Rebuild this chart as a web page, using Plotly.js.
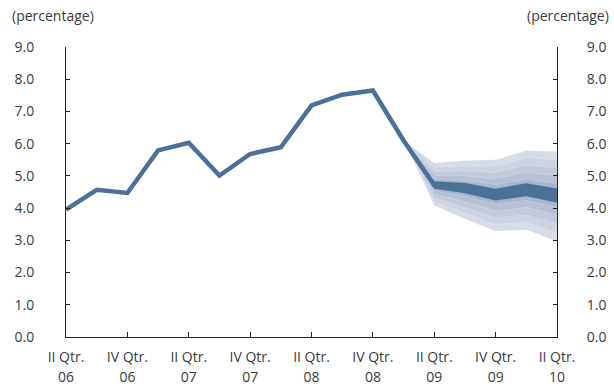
<!DOCTYPE html>
<html>
<head>
<meta charset="utf-8">
<script src="https://cdn.plot.ly/plotly-3.0.1.min.js"></script>
<style>html,body{margin:0;padding:0;background:#fff;}#chart{width:614px;height:388px;}</style>
</head>
<body>
<div id="chart"></div>
<script>
// Quarters II Qtr. 06 .. II Qtr. 10
const quarters = ["II 06","III 06","IV 06","I 07","II 07","III 07","IV 07","I 08","II 08","III 08","IV 08","I 09","II 09","III 09","IV 09","I 10","II 10"];
const rate = [3.95, 4.57, 4.47, 5.79, 6.03, 5.01, 5.68, 5.89, 7.19, 7.52, 7.65, 6.10, 4.71, 4.62, 4.42, 4.57, 4.39];
const tickQuarters = ["II 06","IV 06","II 07","IV 07","II 08","IV 08","II 09","IV 09","II 10"];
const tickQtrLabels = ["II Qtr.","IV Qtr.","II Qtr.","IV Qtr.","II Qtr.","IV Qtr.","II Qtr.","IV Qtr.","II Qtr."];
const tickYearLabels = ["06","06","07","07","08","08","09","09","10"];
// Fan chart (projection) quarters I 09 .. II 10; band edges, outermost first, innermost = central band
const fanQuarters = ["I 09","II 09","III 09","IV 09","I 10","II 10"];
const fanUpper = [
  [6.10, 5.40, 5.48, 5.50, 5.79, 5.76],
  [6.10, 5.27, 5.31, 5.30, 5.56, 5.50],
  [6.10, 5.14, 5.15, 5.11, 5.33, 5.25],
  [6.10, 5.02, 5.00, 4.92, 5.11, 5.00],
  [6.10, 4.90, 4.86, 4.73, 4.90, 4.76],
  [6.10, 4.83, 4.78, 4.60, 4.77, 4.61]
];
const fanLower = [
  [6.10, 4.08, 3.66, 3.28, 3.33, 2.97],
  [6.10, 4.20, 3.84, 3.49, 3.56, 3.24],
  [6.10, 4.32, 4.02, 3.70, 3.79, 3.51],
  [6.10, 4.44, 4.20, 3.91, 4.02, 3.78],
  [6.10, 4.54, 4.36, 4.12, 4.24, 4.03],
  [6.10, 4.60, 4.46, 4.24, 4.37, 4.17]
];
const fanColors = ["#d6dbe7","#ccd3e1","#c2cadb","#b6c0d4","#a9b5cc","#4a7299"];

const xi = q => quarters.indexOf(q);
const traces = [];
fanUpper.forEach((up, k) => {
  const lo = fanLower[k];
  const xs = fanQuarters.map(xi).concat(fanQuarters.map(xi).reverse());
  const ys = up.concat(lo.slice().reverse());
  const last = k === fanUpper.length - 1;
  traces.push({x: xs, y: ys, type: "scatter", mode: "lines", fill: "toself",
    fillcolor: fanColors[k], line: {width: last ? 0 : 0.6, color: "rgba(255,255,255,0.35)"}, hoverinfo: "skip", showlegend: false});
});
traces.push({x: quarters.map(xi), y: rate, type: "scatter", mode: "lines",
  line: {color: "#4a7299", width: 4.5, shape: "linear"}, showlegend: false});
// invisible copy so the secondary (right / year-label) axes are drawn
traces.push({x: quarters.map(xi), y: rate, type: "scatter", mode: "lines", xaxis: "x2", yaxis: "y2",
  line: {width: 0}, opacity: 0, hoverinfo: "skip", showlegend: false});

const font = {family: "Open Sans, sans-serif", size: 14, color: "#3a3a3a"};
const yCommon = {range: [0, 9], dtick: 1, tickformat: ".1f", showgrid: false, zeroline: false,
  showline: true, linecolor: "#222", linewidth: 1, ticks: "inside", ticklen: 4, tickcolor: "#222",
  tickfont: font, fixedrange: true};

const layout = {
  width: 614, height: 388,
  margin: {l: 66, r: 57, t: 47, b: 51},
  paper_bgcolor: "#fff", plot_bgcolor: "#fff",
  font: font,
  showlegend: false,
  xaxis: {range: [0, 16], tickvals: tickQuarters.map(xi), ticktext: tickQtrLabels, showgrid: false, zeroline: false,
    showline: true, linecolor: "#222", linewidth: 1, ticks: "inside", ticklen: 5, tickcolor: "#222",
    tickfont: font, tickangle: 0, ticklabelstandoff: 7},
  xaxis2: {range: [0, 16], tickvals: tickQuarters.map(xi), ticktext: tickYearLabels, overlaying: "x", side: "bottom", anchor: "y",
    showgrid: false, zeroline: false, showline: false, ticks: "outside", ticklen: 27, tickcolor: "rgba(0,0,0,0)",
    tickfont: font, tickangle: 0},
  yaxis: Object.assign({}, yCommon, {side: "left", ticklabelstandoff: 28}),
  yaxis2: Object.assign({}, yCommon, {side: "right", overlaying: "y", ticklabelstandoff: 26}),
  annotations: [
    {text: "(percentage)", xref: "paper", yref: "paper", x: -0.115, y: 1.0, yshift: 32, xanchor: "left", yanchor: "middle", showarrow: false, font: font},
    {text: "(percentage)", xref: "paper", yref: "paper", x: 1.11, y: 1.0, yshift: 32, xanchor: "right", yanchor: "middle", showarrow: false, font: font}
  ]
};
Plotly.newPlot("chart", traces, layout, {staticPlot: true, displayModeBar: false});
</script>
</body>
</html>
